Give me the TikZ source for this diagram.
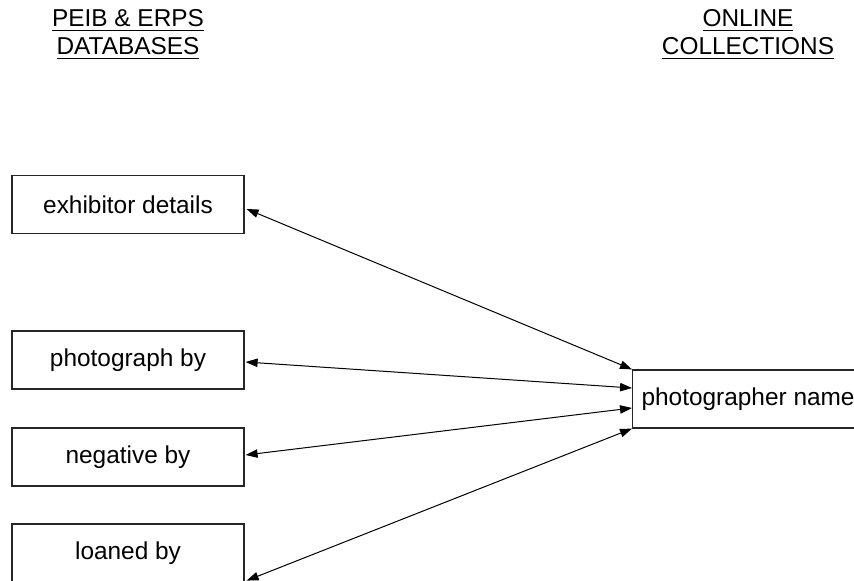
\documentclass[tikz,border=0pt]{standalone}
\usepackage{fontspec}
\setmainfont{Liberation Sans}
\usetikzlibrary{arrows.meta,calc}
\begin{document}
\begin{tikzpicture}[x=0.5pt,y=-0.5pt,
  every node/.style={font=\fontsize{12.2pt}{14pt}\selectfont},
  head/.style={anchor=base, inner sep=0pt},
  field/.style={draw=black!85, line width=0.6pt, minimum width=116pt, minimum height=29pt, inner sep=0pt},
  target/.style={draw=black!85, line width=0.6pt, anchor=west, minimum height=29pt, inner xsep=4.5pt, inner ysep=0pt},
  link/.style={line width=0.5pt, {Triangle[length=6pt,width=4.2pt]}-{Triangle[length=6pt,width=4.2pt]}}
]
\useasboundingbox (0,0) rectangle (854,581);
% headings
\node[head] (h1a) at (128,27) {\underline{PEIB \& ERPS}};
\node[head] (h1b) at (128,55) {\underline{DATABASES}};
\node[head] (h2a) at (748,27) {\underline{ONLINE}};
\node[head] (h2b) at (748,55) {\underline{COLLECTIONS}};
% left boxes
\node[field] (exh) at (128,204.5) {exhibitor details};
\node[field] (ph) at (128,360) {photograph by};
\node[field] (neg) at (128,457) {negative by};
\node[field] (loan) at (128,553) {loaned by};
% right box
\node[target] (pn) at (632,399) {photographer name};
% connectors
\draw[link] ($(exh.east)+(2,4.5)$) -- (pn.north west);
\draw[link] ($(ph.east)+(1,2)$) -- ($(pn.west)+(0,-11)$);
\draw[link] ($(neg.east)+(1,-2)$) -- ($(pn.west)+(0,9)$);
\draw[link] ($(loan.south east)+(2,-2)$) -- (pn.south west);
\end{tikzpicture}
\end{document}
